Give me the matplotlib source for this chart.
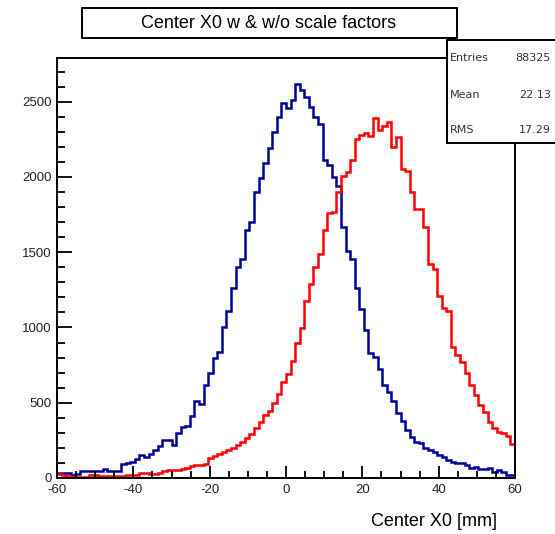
import numpy as np
import matplotlib
matplotlib.use("Agg")
import matplotlib.pyplot as plt
from matplotlib.patches import Rectangle
from matplotlib.ticker import MultipleLocator

plt.rcParams['font.family'] = ['Liberation Sans', 'DejaVu Sans']
plt.rcParams['axes.unicode_minus'] = False

# 100 bins of 1.2 mm from -60 to 60
x_lo, x_hi, n_bins = -60, 60, 100

# without scale factors (blue)
blue_counts = [30, 30, 30, 18, 28, 45, 47, 47, 47, 48,
               62, 47, 46, 47, 95, 100, 105, 125, 150, 140,
               160, 185, 215, 255, 250, 222, 300, 340, 345, 410,
               510, 490, 620, 700, 800, 835, 1000, 1110, 1265, 1400,
               1455, 1645, 1700, 1900, 1990, 2090, 2190, 2300, 2400, 2490,
               2460, 2510, 2615, 2577, 2532, 2466, 2399, 2354, 2110, 2076,
               1999, 1940, 1665, 1509, 1454, 1265, 1120, 980, 830, 805,
               725, 615, 570, 510, 430, 380, 320, 270, 242, 232,
               200, 185, 170, 153, 142, 120, 109, 102, 100, 87,
               65, 75, 62, 60, 65, 42, 52, 38, 22, 20]

# with scale factors (red)
red_counts = [25, 20, 13, 8, 8, 5, 5, 20, 18, 10,
              12, 15, 15, 15, 10, 20, 20, 22, 30, 30,
              28, 28, 30, 45, 50, 52, 55, 58, 65, 82,
              85, 88, 95, 130, 148, 160, 175, 185, 198, 220,
              240, 265, 295, 331, 370, 420, 445, 495, 555, 640,
              690, 780, 900, 998, 1176, 1287, 1399, 1487, 1650, 1760,
              1770, 1900, 2005, 2030, 2110, 2250, 2280, 2290, 2270, 2390,
              2310, 2335, 2366, 2200, 2266, 2054, 2040, 1900, 1790, 1790,
              1665, 1420, 1390, 1210, 1130, 1110, 870, 820, 770, 700,
              620, 553, 487, 440, 370, 330, 305, 298, 280, 225]

stats_labels = ["Entries", "Mean", "RMS"]
stats_values = ["88325", "22.13", "17.29"]

W, H = 555, 534
fig = plt.figure(figsize=(W / 100, H / 100), dpi=100)

def fx(px):
    return px / W

def fy(py):
    return 1 - py / H

ax = fig.add_axes([fx(57), fy(478), fx(515) - fx(57), fy(58) - fy(478)])
edges = np.linspace(x_lo, x_hi, n_bins + 1)
ax.stairs(blue_counts, edges, color='#000099', lw=1.8, baseline=None)
ax.stairs(red_counts, edges, color='#ff0000', lw=1.8, baseline=None)

ax.set_xlim(x_lo, x_hi)
ax.set_ylim(0, 2790)
ax.xaxis.set_major_locator(MultipleLocator(20))
ax.xaxis.set_minor_locator(MultipleLocator(5))
ax.yaxis.set_major_locator(MultipleLocator(500))
ax.yaxis.set_minor_locator(MultipleLocator(100))
ax.tick_params(which='both', direction='in', top=False, right=False,
               labelsize=9.5, width=1.3)
ax.tick_params(axis='both', which='major', labelcolor='#222222')
ax.tick_params(axis='x', which='major', length=9, pad=4)
ax.tick_params(axis='x', which='minor', length=5)
ax.tick_params(axis='y', which='major', length=11, pad=4)
ax.tick_params(axis='y', which='minor', length=6)
for s in ax.spines.values():
    s.set_linewidth(1.4)

fig.text(fx(497), fy(522), "Center X0 [mm]", ha='right', va='center', fontsize=13)

# title box
fig.add_artist(Rectangle((fx(82), fy(38)), fx(457) - fx(82), fy(8) - fy(38),
                         transform=fig.transFigure, facecolor='white',
                         edgecolor='black', lw=1.4))
fig.text(fx(269), fy(23), "Center X0 w & w/o scale factors",
         ha='center', va='center', fontsize=13)

# stats box
fig.add_artist(Rectangle((fx(447), fy(143)), fx(556) - fx(447), fy(40) - fy(143),
                         transform=fig.transFigure, facecolor='white',
                         edgecolor='black', lw=1.4, zorder=5))
for lab, val, ypx in zip(stats_labels, stats_values, [58, 95, 130]):
    fig.text(fx(450), fy(ypx), lab, ha='left', va='center', fontsize=8,
             family='DejaVu Sans', color='#333333', zorder=6)
    fig.text(fx(551), fy(ypx), val, ha='right', va='center', fontsize=8,
             family='DejaVu Sans', color='#333333', zorder=6)

fig.savefig("out.png", dpi=100)
